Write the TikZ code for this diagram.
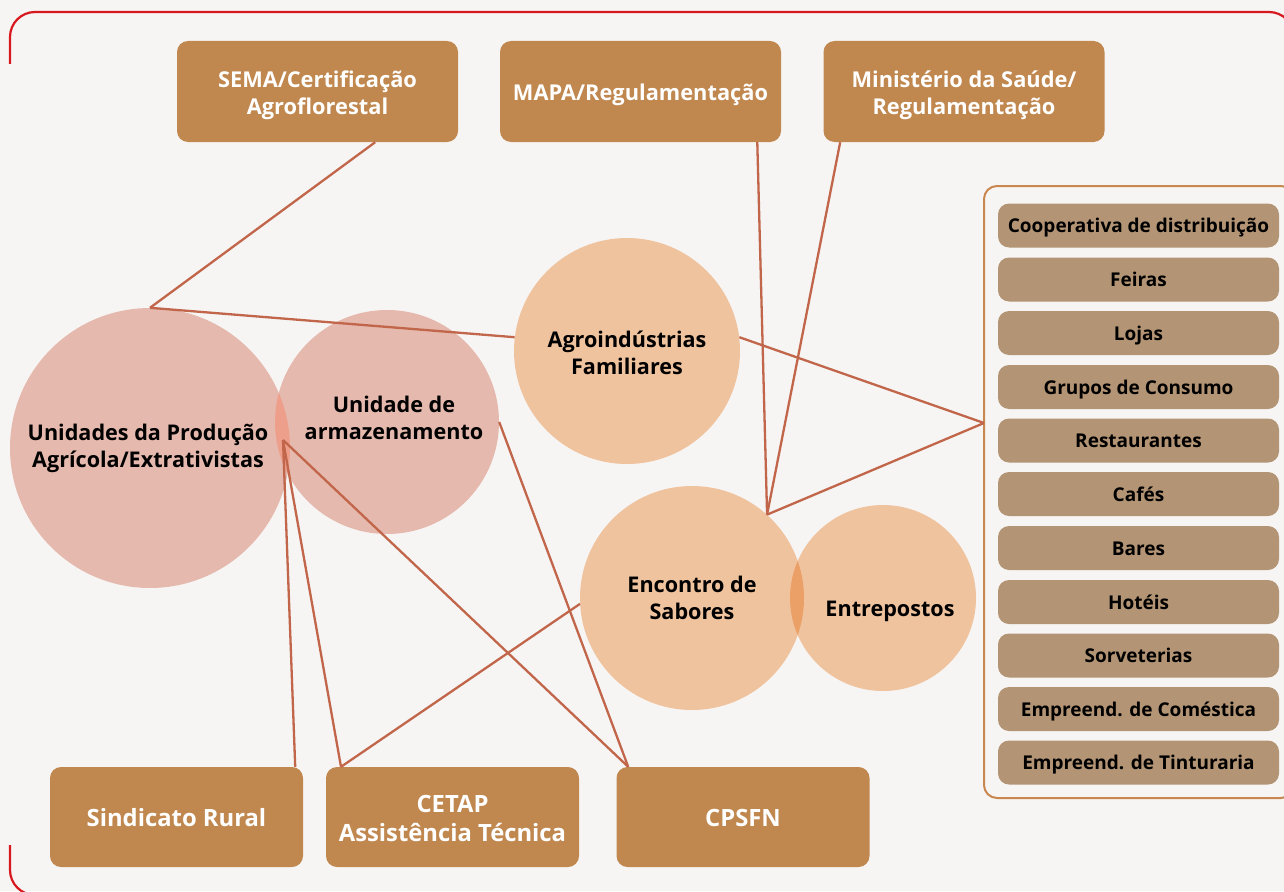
\documentclass[tikz,border=0pt]{standalone}
\usepackage{fontspec}
\setmainfont{Open Sans}
\usetikzlibrary{calc}
\definecolor{bg}{HTML}{F7F5F3}
\definecolor{boxbrown}{HTML}{C0874F}
\definecolor{itembrown}{HTML}{B39474}
\definecolor{panelline}{HTML}{C8874F}
\definecolor{pinkc}{HTML}{E5B9AE}
\definecolor{pinkov}{HTML}{EE9F8B}
\definecolor{peachc}{HTML}{F0C39F}
\definecolor{peachov}{HTML}{EBA068}
\definecolor{conn}{HTML}{C1664A}
\definecolor{frame}{HTML}{D7191F}
\tikzset{
  topbox/.style={draw=none, fill=boxbrown, rounded corners=11pt, minimum width=281pt, minimum height=101pt},
  toptext/.style={text=white, align=center, font=\bfseries\fontsize{21.8}{27}\selectfont},
  botbox/.style={draw=none, fill=boxbrown, rounded corners=11pt, minimum width=253pt, minimum height=100pt, text=white, align=center, font=\bfseries\fontsize{23.8}{29}\selectfont},
  item/.style={draw=none, fill=itembrown, rounded corners=11pt, minimum width=281pt, minimum height=44pt, inner ysep=0pt, text height=18.6pt, text depth=4pt, text=black, font=\bfseries\fontsize{19}{21}\selectfont},
  circtext/.style={text=black, align=center, font=\bfseries\fontsize{21.6}{27}\selectfont},
  pinkcircle/.style={circle, fill=pinkc, inner sep=0pt, circtext},
  peachcircle/.style={circle, fill=peachc, inner sep=0pt, circtext},
  connector/.style={draw=conn, line width=2.3pt},
}
\begin{document}
\begin{tikzpicture}[x=1pt,y=-1pt]
\useasboundingbox (0,0) rectangle (1284,891);
\fill[bg] (0,0) rectangle (1284,891);
% red frame
\draw[frame, line width=2.2pt, rounded corners=25pt] (10,64) -- (10,12) -- (1294,12) -- (1294,60);
\draw[frame, line width=2.2pt, rounded corners=25pt] (10,845) -- (10,895) -- (80,895);

% top boxes
\node[topbox] (sema) at (317.5,91.5) {};
\node[toptext] (semat) at (317.5,95) {SEMA/Certificação\\Agroflorestal};
\node[topbox] (mapa) at (640.5,91.5) {};
\node[toptext] (mapat) at (640.5,95) {MAPA/Regulamentação};
\node[topbox] (min) at (964,91.5) {};
\node[toptext] (mint) at (964,95) {Ministério da Saúde/\\Regulamentação};

% bottom boxes
\node[botbox] (sind) at (176.5,817) {};
\node[botbox, fill=none] (sindt) at (176.5,818) {Sindicato Rural};
\node[botbox] (cetap) at (452.5,817) {};
\node[botbox, fill=none] (cetapt) at (452.5,818) {CETAP\\Assistência Técnica};
\node[botbox] (cpsfn) at (743,817) {};
\node[botbox, fill=none] (cpsfnt) at (743,818) {CPSFN};

% right panel
\node[draw=panelline, line width=2pt, fill=bg, rounded corners=13pt, minimum width=310pt, minimum height=612pt, inner sep=0pt] (panel) at (1139,492) {};
\coordinate (pin) at (984,423);
\node[item] (i1) at (1138.5,225.5) {Cooperativa de distribuição};
\node[item] (i2) at (1138.5,279.5) {Feiras};
\node[item] (i3) at (1138.5,333) {Lojas};
\node[item] (i4) at (1138.5,387) {Grupos de Consumo};
\node[item] (i5) at (1138.5,440.5) {Restaurantes};
\node[item] (i6) at (1138.5,494) {Cafés};
\node[item] (i7) at (1138.5,548) {Bares};
\node[item] (i8) at (1138.5,602) {Hotéis};
\node[item] (i9) at (1138.5,655.5) {Sorveterias};
\node[item] (i10) at (1138.5,709) {Empreend. de Coméstica};
\node[item] (i11) at (1138.5,762.5) {Empreend. de Tinturaria};

% circles
\node[pinkcircle, minimum size=280pt] (unid) at (150,448) {};
\node[pinkcircle, minimum size=224pt] (arm) at (387,422) {};
\begin{scope}
  \clip (unid.center) circle[radius=140pt];
  \fill[pinkov] (arm.center) circle[radius=112pt];
\end{scope}
\node[circtext] (unidt) at (148,448) {Unidades da Produção\\Agrícola/Extrativistas};
\node[circtext] (armt) at (394,418) {Unidade de\\armazenamento};

\node[peachcircle, minimum size=226pt] (agro) at (627,351) {};
\node[circtext] (agrot) at (627,352.5) {Agroindústrias\\Familiares};
\node[peachcircle, minimum size=224pt] (enc) at (692,598) {};
\node[peachcircle, minimum size=186pt] (entr) at (883,598) {};
\begin{scope}
  \clip (enc.center) circle[radius=112pt];
  \fill[peachov] (entr.center) circle[radius=93pt];
\end{scope}
\node[circtext] (enct) at (692,597.5) {Encontro de\\Sabores};
\node[circtext] (entrt) at (890,611) {Entrepostos};

% connectors
\coordinate (hub) at (283,440);
\draw[connector] ($(sema.south)!0.41!(sema.south east)$) -- (unid.north);
\draw[connector] (unid.north) -- (agro.173);
\draw[connector] ($(mapa.south)!0.83!(mapa.south east)$) -- (enc.48);
\draw[connector] ($(min.south)!0.88!(min.south west)$) -- (enc.48);
\draw[connector] (enc.48) -- (pin);
\draw[connector] (agro.7) -- (pin);
\draw[connector] (hub) -- ($(sind.north)!0.937!(sind.north east)$);
\draw[connector] (hub) -- ($(cetap.north)!0.88!(cetap.north west)$);
\draw[connector] (hub) -- ($(cpsfn.north)!0.906!(cpsfn.north west)$);
\draw[connector] (arm.east) -- ($(cpsfn.north)!0.906!(cpsfn.north west)$);
\draw[connector] (enc.183) -- ($(cetap.north)!0.88!(cetap.north west)$);
\end{tikzpicture}
\end{document}
